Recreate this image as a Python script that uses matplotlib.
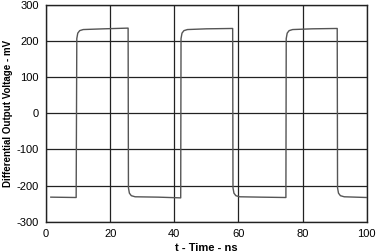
import matplotlib
matplotlib.use('Agg')
import matplotlib.pyplot as plt

plt.rcParams['font.family'] = ['Liberation Sans', 'DejaVu Sans']
plt.rcParams['axes.unicode_minus'] = False

# waveform (ns, mV)
t_ns = [1.5, 9.4, 9.6, 9.9, 10.5, 11.6, 18.0, 25.6,
        25.7, 26.0, 26.6, 27.8, 35.0, 42.0,
        42.1, 42.4, 43.0, 44.1, 50.0, 58.2,
        58.3, 58.6, 59.2, 60.4, 67.0, 74.8,
        74.9, 75.2, 75.8, 76.9, 83.0, 90.8,
        90.9, 91.2, 91.8, 93.0, 100.0]
v_mv = [-232, -233, 207, 222, 229, 232, 234, 236,
        -206, -221, -228, -231, -232, -234,
        207, 222, 229, 232, 234, 235,
        -206, -221, -228, -231, -232, -233,
        207, 222, 229, 232, 234, 235,
        -206, -221, -228, -231, -233]

x_ticks = [0, 20, 40, 60, 80, 100]
y_ticks = [-300, -200, -100, 0, 100, 200, 300]

fig = plt.figure(figsize=(3.79, 2.52), dpi=100)
ax = fig.add_axes([0.1214, 0.1202, 0.8462, 0.8600])

ax.plot(t_ns, v_mv, color='#555555', lw=1.0, zorder=3)

ax.set_xlim(0, 100)
ax.set_ylim(-300, 300)
ax.set_xticks(x_ticks)
ax.set_yticks(y_ticks)
ax.grid(True, color='#222222', lw=0.9)
ax.tick_params(length=0, labelsize=8, pad=5)
for s in ax.spines.values():
    s.set_color('#222222')
    s.set_linewidth(1.0)

ax.set_xlabel('t - Time - ns', fontsize=8, fontweight='bold', labelpad=3)
ax.set_ylabel('Differential Output Voltage - mV', fontsize=7, fontweight='bold', labelpad=3)

fig.savefig('out.png', dpi=100)
